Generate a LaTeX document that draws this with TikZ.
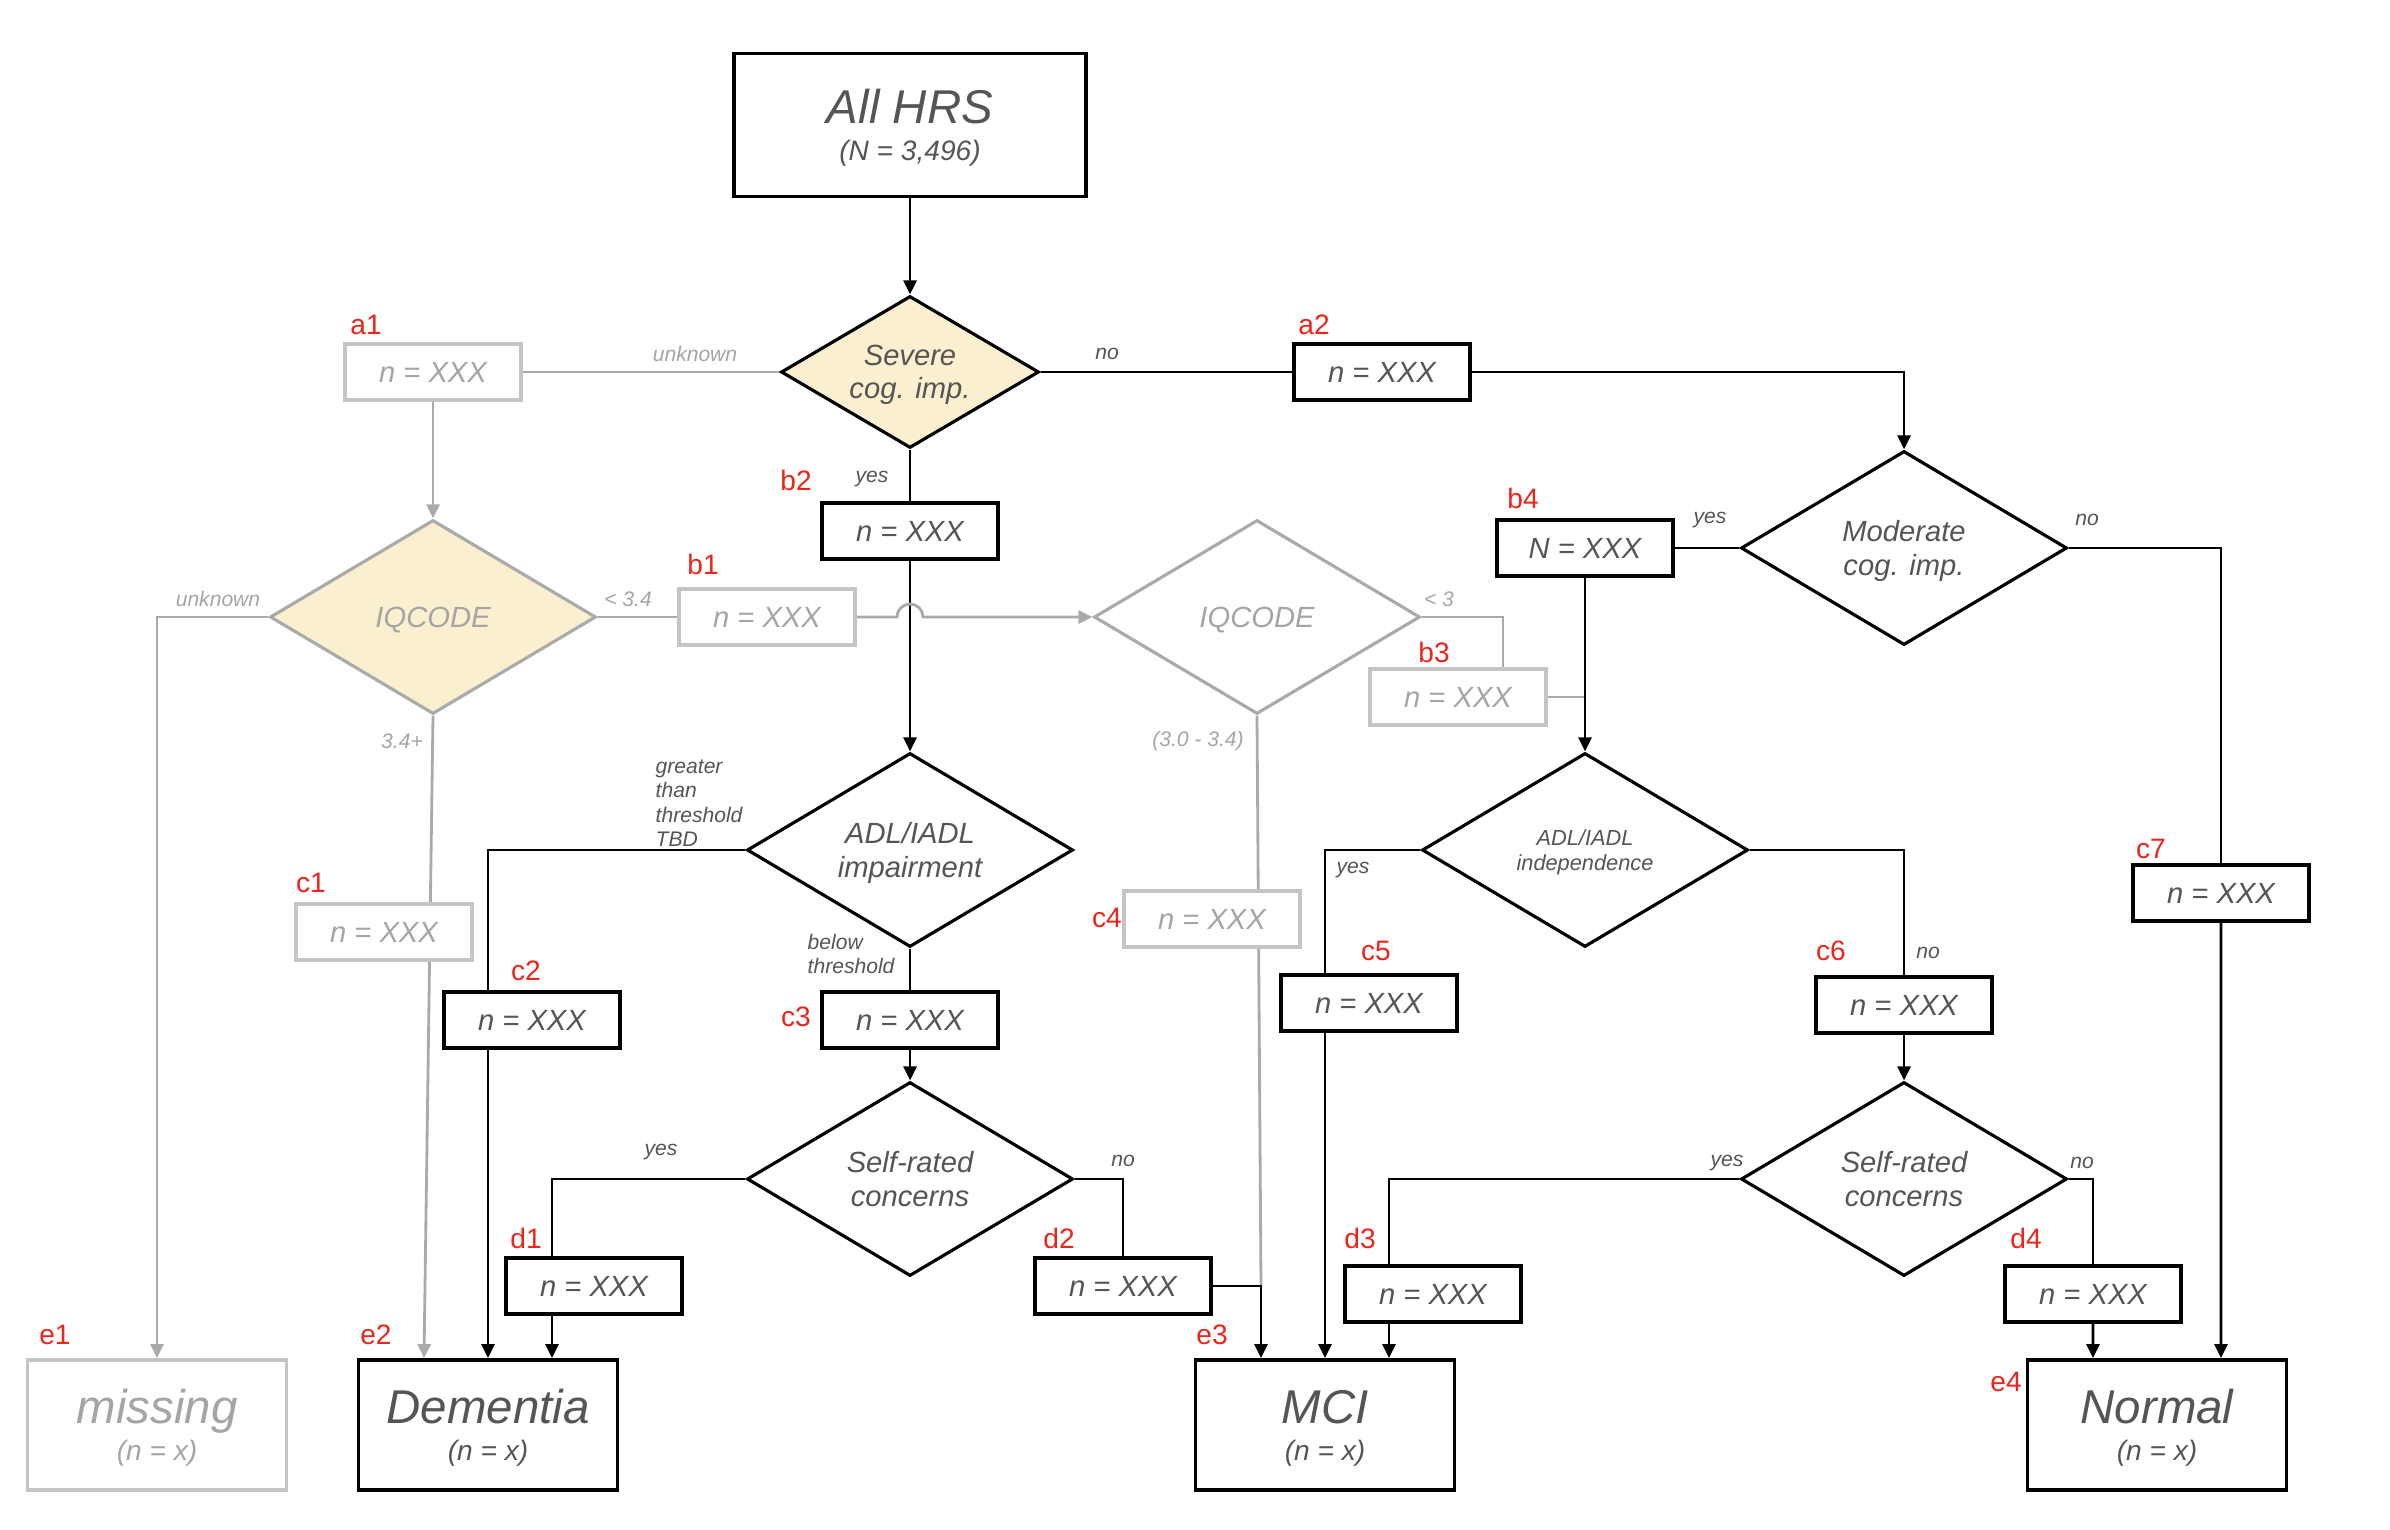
\documentclass[tikz,border=0pt]{standalone}
\usepackage{fontspec}
\setmainfont{Liberation Sans}
\usetikzlibrary{arrows.meta, shapes.geometric, calc, backgrounds}
\definecolor{inkc}{RGB}{85,85,85}
\definecolor{fadec}{RGB}{170,170,170}
\definecolor{fboxc}{RGB}{196,196,196}
\definecolor{ftextc}{RGB}{165,165,165}
\definecolor{creamc}{RGB}{250,240,207}
\definecolor{tagc}{RGB}{236,36,26}
\tikzset{
  box/.style={
    rectangle, draw=black, line width=1.1pt, fill=white,
    minimum width=1.76cm, minimum height=0.56cm, inner sep=1pt,
    font=\fontsize{8.3}{9.5}\selectfont\itshape, text=inkc
  },
  fadebox/.style={box, draw=fboxc, text=ftextc},
  bigbox/.style={box, minimum width=2.59cm, minimum height=1.30cm, align=center,
                 text depth=0pt, font=\fontsize{8}{10.5}\selectfont\itshape},
  dec/.style={
    diamond, draw=black, line width=0.9pt, fill=white, inner sep=0pt, aspect=1.67,
    minimum width=3.26cm, minimum height=1.94cm, align=center, text depth=0pt,
    font=\fontsize{8.3}{9.5}\selectfont\itshape, text=inkc
  },
  fadedec/.style={dec, draw=fadec, text=ftextc},
  tag/.style={font=\fontsize{8}{9}\selectfont, text=tagc, inner sep=0pt},
  elbl/.style={font=\fontsize{6}{6.9}\selectfont\itshape, text=inkc, inner sep=0pt, align=left},
  felbl/.style={elbl, text=ftextc},
  conn/.style={line width=0.8pt, draw=black},
  gconn/.style={line width=0.8pt, draw=fadec},
  arr/.style={conn, -{Triangle[length=1.4mm, width=1.3mm]}},
  garr/.style={gconn, -{Triangle[length=1.4mm, width=1.3mm]}},
}
\newcommand{\bigtxt}{\fontsize{13.5}{10.5}\selectfont}

\begin{document}
\begin{tikzpicture}
  \useasboundingbox (0,0) rectangle (23.9,-15.3);

  % first split
  \node[bigbox, minimum width=3.52cm, minimum height=1.43cm] (all) at (9.10,-1.25)
    {{\bigtxt All HRS}\\(N = 3,496)};
  \node[dec, fill=creamc, minimum width=2.58cm, minimum height=1.52cm] (sev) at (9.10,-3.72)
    {Severe\\cog. imp.};
  \node[fadebox] (a1) at (4.33,-3.72) {n = XXX};
  \node[box] (a2) at (13.82,-3.72) {n = XXX};
  \node[box] (b2) at (9.10,-5.31) {n = XXX};

  % IQCODE branches
  \node[fadedec, fill=creamc] (iqL) at (4.33,-6.17) {IQCODE};
  \node[fadebox] (b1) at (7.67,-6.17) {n = XXX};
  \node[fadedec] (iqR) at (12.57,-6.17) {IQCODE};
  \node[fadebox] (b3) at (14.58,-6.97) {n = XXX};
  \node[fadebox] (c1) at (3.84,-9.32) {n = XXX};
  \node[fadebox] (c4) at (12.12,-9.19) {n = XXX};

  % moderate branch
  \node[dec] (mod) at (19.04,-5.48) {Moderate\\cog. imp.};
  \node[box] (b4) at (15.85,-5.48) {N = XXX};
  \node[box] (c7) at (22.21,-8.93) {n = XXX};

  % function
  \node[dec] (adl) at (9.10,-8.50) {ADL/IADL\\impairment};
  \node[dec, font=\fontsize{6.2}{7}\selectfont\itshape] (indep) at (15.85,-8.50) {ADL/IADL\\independence};
  \node[box] (c2) at (5.32,-10.20) {n = XXX};
  \node[box] (c3) at (9.10,-10.20) {n = XXX};
  \node[box] (c5) at (13.69,-10.03) {n = XXX};
  \node[box] (c6) at (19.04,-10.05) {n = XXX};

  % concerns
  \node[dec] (selfL) at (9.10,-11.79) {Self-rated\\concerns};
  \node[dec] (selfR) at (19.04,-11.79) {Self-rated\\concerns};
  \node[box] (d1) at (5.94,-12.86) {n = XXX};
  \node[box] (d2) at (11.23,-12.86) {n = XXX};
  \node[box] (d3) at (14.33,-12.94) {n = XXX};
  \node[box] (d4) at (20.93,-12.94) {n = XXX};

  % outcomes
  \node[bigbox, draw=fboxc, text=ftextc] (e1) at (1.57,-14.25) {{\bigtxt missing}\\(n = x)};
  \node[bigbox] (e2) at (4.88,-14.25) {{\bigtxt Dementia}\\(n = x)};
  \node[bigbox] (e3) at (13.25,-14.25) {{\bigtxt MCI}\\(n = x)};
  \node[bigbox] (e4) at (21.57,-14.25) {{\bigtxt Normal}\\(n = x)};

  \coordinate (e2l) at ($(e2.north)+(-0.64,0)$);
  \coordinate (e2r) at ($(e2.north)+(0.64,0)$);
  \coordinate (e3l) at ($(e3.north)+(-0.64,0)$);
  \coordinate (e3r) at ($(e3.north)+(0.64,0)$);
  \coordinate (e4l) at ($(e4.north)+(-0.64,0)$);
  \coordinate (e4r) at ($(e4.north)+(0.64,0)$);

  % red tags
  \node[tag] (t-a1) at (3.66,-3.25) {a1};
  \node[tag] (t-a2) at (13.14,-3.25) {a2};
  \node[tag] (t-b1) at (7.03,-5.64) {b1};
  \node[tag] (t-b2) at (7.96,-4.80) {b2};
  \node[tag] (t-b3) at (14.34,-6.52) {b3};
  \node[tag] (t-b4) at (15.23,-4.98) {b4};
  \node[tag] (t-c1) at (3.11,-8.83) {c1};
  \node[tag] (t-c2) at (5.26,-9.71) {c2};
  \node[tag] (t-c3) at (7.96,-10.17) {c3};
  \node[tag] (t-c4) at (11.07,-9.18) {c4};
  \node[tag] (t-c5) at (13.76,-9.51) {c5};
  \node[tag] (t-c6) at (18.31,-9.51) {c6};
  \node[tag] (t-c7) at (21.51,-8.49) {c7};
  \node[tag] (t-d1) at (5.26,-12.38) {d1};
  \node[tag] (t-d2) at (10.59,-12.38) {d2};
  \node[tag] (t-d3) at (13.60,-12.38) {d3};
  \node[tag] (t-d4) at (20.26,-12.38) {d4};
  \node[tag] (t-e1) at (0.55,-13.35) {e1};
  \node[tag] (t-e2) at (3.76,-13.35) {e2};
  \node[tag] (t-e3) at (12.12,-13.35) {e3};
  \node[tag] (t-e4) at (20.06,-13.82) {e4};

  % branch words
  \node[felbl] (l-unk1) at (6.95,-3.54) {unknown};
  \node[elbl] (l-no1) at (11.07,-3.54) {no};
  \node[elbl] (l-yes1) at (8.72,-4.79) {yes};
  \node[felbl] (l-unk2) at (2.18,-5.99) {unknown};
  \node[felbl] (l-lt34) at (6.28,-5.99) {< 3.4};
  \node[felbl] (l-ge34) at (4.02,-7.41) {3.4+};
  \node[felbl] (l-lt3) at (14.39,-5.99) {< 3};
  \node[felbl] (l-mid) at (11.98,-7.41) {(3.0 - 3.4)};
  \node[elbl, anchor=south west] (l-gt) at (6.55,-8.47) {greater\\than\\threshold\\TBD};
  \node[elbl, anchor=west] (l-below) at (8.07,-9.54) {below\\threshold};
  \node[elbl] (l-yes2) at (6.61,-11.52) {yes};
  \node[elbl] (l-no2) at (11.23,-11.61) {no};
  \node[elbl] (l-yes3) at (17.10,-5.20) {yes};
  \node[elbl] (l-no3) at (20.87,-5.20) {no};
  \node[elbl] (l-yes4) at (13.53,-8.70) {yes};
  \node[elbl] (l-no4) at (19.28,-9.53) {no};
  \node[elbl] (l-yes5) at (17.27,-11.63) {yes};
  \node[elbl] (l-no5) at (20.82,-11.63) {no};

  \begin{scope}[on background layer]
    \draw[garr] (iqL.south) -- (e2l);
    \draw[gconn] (iqR.south) -- (d2.east -| e3l);
  \end{scope}

  \draw[arr] (all) -- (sev);
  \draw[gconn] (sev.west) -- (a1.east);
  \draw[garr] (a1) -- (iqL);
  \draw[conn] (sev.east) -- (a2.west);
  \draw[arr] (a2.east) -| (mod.north);
  \draw[conn] (sev.south) -- (b2.north);
  \draw[arr] (b2.south) -- (adl.north);
  \draw[garr] (iqL.west) -| (e1.north);
  \draw[gconn] (iqL.east) -- (b1.west);
  \draw[garr] (b1.east) -- ($(b1.east -| b2.south)+(-0.13,0)$)
    arc[start angle=180, end angle=0, radius=0.13] -- (iqR.west);
  \draw[gconn] (iqR.east) -| ($(b3.north)+(0.45,0)$);
  \draw[gconn] (b3.east) -- (b3.east -| b4.south);
  \draw[conn] (mod.west) -- (b4.east);
  \draw[arr] (b4.south) -- (indep.north);
  \draw[conn] (mod.east) -| (c7.north);
  \draw[arr] (c7.south) -- (e4r);
  \draw[conn] (adl.west) -| (c2.north -| e2.north);
  \draw[arr] (c2.south -| e2.north) -- (e2.north);
  \draw[conn] (adl.south) -- (c3.north);
  \draw[arr] (c3.south) -- (selfL.north);
  \draw[conn] (selfL.west) -| (d1.north -| e2r);
  \draw[arr] (d1.south -| e2r) -- (e2r);
  \draw[conn] (selfL.east) -| (d2.north);
  \draw[arr] (d2.east) -| (e3l);
  \draw[conn] (indep.west) -| (c5.north -| e3.north);
  \draw[arr] (c5.south -| e3.north) -- (e3.north);
  \draw[conn] (indep.east) -| (c6.north);
  \draw[arr] (c6.south) -- (selfR.north);
  \draw[conn] (selfR.west) -| (d3.north -| e3r);
  \draw[arr] (d3.south -| e3r) -- (e3r);
  \draw[conn] (selfR.east) -| (d4.north);
  \draw[arr] (d4.south) -- (e4l);

\end{tikzpicture}
\end{document}
